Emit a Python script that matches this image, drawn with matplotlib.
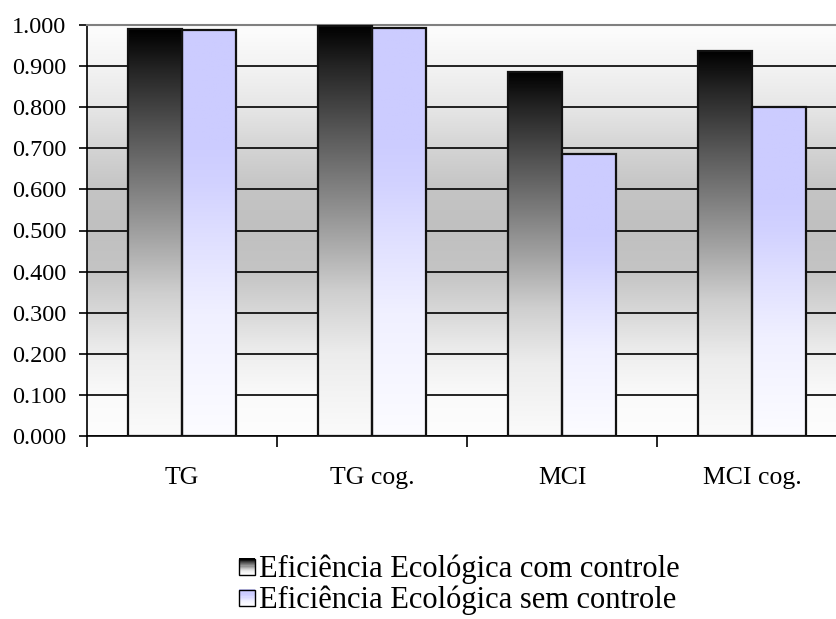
import numpy as np
import matplotlib
matplotlib.use("Agg")
import matplotlib.pyplot as plt
from matplotlib.colors import LinearSegmentedColormap
from matplotlib.patches import Rectangle
from matplotlib.legend_handler import HandlerBase

categories = ["TG", "TG cog.", "MCI", "MCI cog."]
com_controle = [0.990, 0.998, 0.886, 0.937]
sem_controle = [0.988, 0.993, 0.687, 0.800]
series_names = ["Eficiência Ecológica com controle", "Eficiência Ecológica sem controle"]
yticks = [0.0, 0.1, 0.2, 0.3, 0.4, 0.5, 0.6, 0.7, 0.8, 0.9, 1.0]

plt.rcParams['font.family'] = ['Liberation Serif', 'DejaVu Serif']

dark_cmap = LinearSegmentedColormap.from_list(
    "dark", [(0.0, "#fbfbfb"), (0.2, "#ececec"), (0.35, "#cfcfcf"), (0.5, "#a0a0a0"),
             (0.75, "#555555"), (0.9, "#252525"), (1.0, "#000000")])
light_cmap = LinearSegmentedColormap.from_list(
    "light", [(0.0, "#fcfcff"), (0.3, "#f0f0ff"), (0.5, "#dedeff"), (0.62, "#d2d2ff"),
              (0.72, "#ccccff"), (1.0, "#ccccff")])
bg_cmap = LinearSegmentedColormap.from_list(
    "bg", [(0.0, "#fdfdfd"), (0.1, "#fafafa"), (0.2, "#eeeeee"), (0.3, "#d8d8d8"),
           (0.4, "#c4c4c4"), (0.5, "#c0c0c0"), (0.6, "#c4c4c4"), (0.7, "#d4d4d4"),
           (0.8, "#e6e6e6"), (0.9, "#f3f3f3"), (1.0, "#fdfdfd")])

fig = plt.figure(figsize=(8.37, 6.19), dpi=100)
ax = fig.add_axes([87/837, 1-436/619, 1-87/837, (436-25)/619])

x = np.arange(len(categories)) + 0.5
w = 0.286
ax.set_xlim(0, 3.947)
ax.set_ylim(0, 1.0)

# background gradient
grad = np.linspace(0, 1, 256).reshape(-1, 1)
ax.imshow(grad, extent=[0, 1, 0, 1], transform=ax.transAxes, cmap=bg_cmap,
          aspect='auto', origin='lower', zorder=0)

ax.set_yticks(yticks)
ax.set_yticklabels([f"{v:.3f}" for v in yticks])
ax.yaxis.grid(True, color='black', linewidth=1.2, zorder=0.5)
ax.set_axisbelow(True)

bars1 = ax.bar(x - w/2, com_controle, width=w, facecolor='none', edgecolor='#111111', linewidth=1.6, zorder=3)
bars2 = ax.bar(x + w/2, sem_controle, width=w, facecolor='none', edgecolor='#111111', linewidth=1.6, zorder=3)

for bars, cmap in ((bars1, dark_cmap), (bars2, light_cmap)):
    for b in bars:
        x0, y0, bw, bh = b.get_x(), b.get_y(), b.get_width(), b.get_height()
        im = ax.imshow(grad, extent=[x0, x0 + bw, y0, y0 + bh], cmap=cmap,
                       aspect='auto', origin='lower', zorder=2)
        im.set_clip_path(b)

ax.set_xticks(x)
ax.set_xticklabels(categories, fontsize=18.5)
ax.set_xticks(np.arange(0, 4), minor=True)
ax.tick_params(axis='x', which='major', length=0, pad=22)
ax.tick_params(axis='x', which='minor', length=8, width=1.2, direction='out')
ax.tick_params(axis='y', length=6, width=1.2, pad=9, labelsize=17.5)

for s in ('left', 'bottom'):
    ax.spines[s].set_color('black')
    ax.spines[s].set_linewidth(1.2)
ax.spines['top'].set_color('#808080')
ax.spines['top'].set_linewidth(1.5)
ax.spines['right'].set_visible(False)


class GradHandler(HandlerBase):
    def __init__(self, cmap):
        super().__init__()
        self.cmap = cmap

    def create_artists(self, legend, orig_handle, xdescent, ydescent, width, height, fontsize, trans):
        n = 14
        size = height * 0.75
        x0 = -xdescent + (width - size)
        y0 = -ydescent + (height - size) / 2
        arts = []
        for i in range(n):
            c = self.cmap(i / (n - 1))
            r = Rectangle((x0, y0 + size * i / n), size, size / n + 0.3, facecolor=c,
                          edgecolor='none', transform=trans)
            arts.append(r)
        arts.append(Rectangle((x0, y0), size, size, facecolor='none', edgecolor='black',
                              linewidth=1.0, transform=trans))
        return arts

leg = fig.legend([bars1, bars2], series_names, loc='center',
                 bbox_to_anchor=(456/837, 1-585/619), frameon=False, fontsize=22,
                 handler_map={bars1: GradHandler(dark_cmap), bars2: GradHandler(light_cmap)},
                 handlelength=0.75, handletextpad=0.12, labelspacing=0.05,
                 borderpad=0.1)

fig.savefig("out.png", dpi=100)
